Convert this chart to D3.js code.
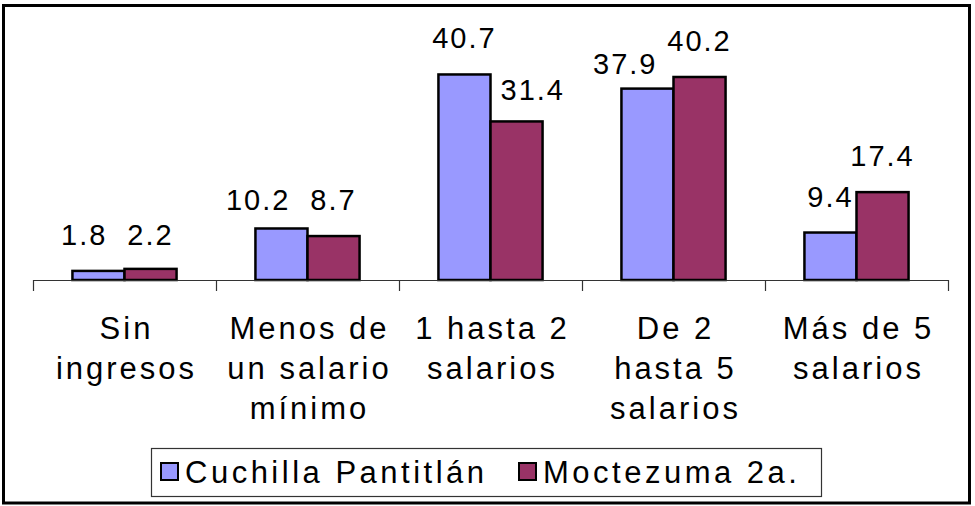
<!DOCTYPE html>
<html>
<head>
<meta charset="utf-8">
<script src="https://cdn.jsdelivr.net/npm/d3@7"></script>
<style>
  body { margin: 0; background: #fff; }
</style>
</head>
<body>
<div id="chart"></div>
<script>
// ingresos por hogar, porcentaje
var categories = ["Sin ingresos", "Menos de un salario mínimo", "1 hasta 2 salarios", "De 2 hasta 5 salarios", "Más de 5 salarios"];
var categoryLines = [["Sin", "ingresos"], ["Menos de", "un salario", "mínimo"], ["1 hasta 2", "salarios"], ["De 2", "hasta 5", "salarios"], ["Más de 5", "salarios"]];
var seriesNames = ["Cuchilla Pantitlán", "Moctezuma 2a."];
var cuchilla = [1.8, 10.2, 40.7, 37.9, 9.4];
var moctezuma = [2.2, 8.7, 31.4, 40.2, 17.4];
var colors = ["#9999FF", "#993366"];

var FONT = "'Liberation Sans', Arimo, Arial, Helvetica, sans-serif";
var width = 975, height = 506;
var margin = {top: 27.5, left: 33, right: 28};
var axisY = 280;

var svg = d3.select("#chart").append("svg")
    .attr("width", width)
    .attr("height", height)
    .style("font-family", FONT);

// outer frame
svg.append("rect")
    .attr("x", 3.5).attr("y", 5.5)
    .attr("width", 966).attr("height", 497.5)
    .attr("fill", "none")
    .attr("stroke", "#000")
    .attr("stroke-width", 3);

var x0 = d3.scaleBand()
    .domain(categories)
    .range([margin.left, width - margin.right + 1])
    .paddingInner(0).paddingOuter(0);

var bw = x0.bandwidth();
var groupW = bw * 0.569;

var x1 = d3.scaleBand()
    .domain(seriesNames)
    .range([(bw - groupW) / 2, (bw + groupW) / 2]);

var y = d3.scaleLinear()
    .domain([0, 50])
    .range([axisY, margin.top]);

var rows = categories.map(function(c, i) {
    return {cat: c, i: i, values: [cuchilla[i], moctezuma[i]]};
});

// bars
var groups = svg.selectAll(".grp")
    .data(rows)
    .enter().append("g")
    .attr("class", "grp")
    .attr("transform", function(d) { return "translate(" + x0(d.cat) + ",0)"; });

groups.selectAll("rect")
    .data(function(d) {
        return d.values.map(function(v, s) { return {s: s, v: v}; });
    })
    .enter().append("rect")
    .attr("x", function(d) { return x1(seriesNames[d.s]); })
    .attr("y", function(d) { return y(d.v); })
    .attr("width", x1.bandwidth())
    .attr("height", function(d) { return axisY - y(d.v); })
    .attr("fill", function(d) { return colors[d.s]; })
    .attr("stroke", "#000")
    .attr("stroke-width", 2.5);

// axis with ticks at category boundaries
var xb = d3.scaleLinear().domain([0, categories.length]).range(x0.range());
svg.append("g")
    .attr("transform", "translate(0," + axisY + ")")
    .call(d3.axisBottom(xb).tickValues(d3.range(categories.length + 1)).tickFormat("").tickSize(11).tickSizeOuter(0))
    .call(function(g) {
        g.selectAll("path, line").attr("stroke", "#333").attr("stroke-width", 1.2);
    });

// category labels
var catText = svg.selectAll(".cat")
    .data(rows)
    .enter().append("text")
    .attr("class", "cat")
    .attr("text-anchor", "middle")
    .style("font-family", FONT)
    .style("font-size", "31px")
    .style("letter-spacing", "3px");

catText.selectAll("tspan")
    .data(function(d) { return categoryLines[d.i].map(function(l) { return {l: l, c: d.cat}; }); })
    .enter().append("tspan")
    .attr("x", function(d) { return x0(d.c) + bw / 2 + 2; })
    .attr("y", function(d, j) { return 339 + j * 40; })
    .text(function(d) { return d.l; });

// value labels, with simple overlap handling
var labels = [];
rows.forEach(function(r) {
    r.values.forEach(function(v, s) {
        var bx = x0(r.cat) + x1(seriesNames[s]);
        labels.push({i: r.i, s: s, v: v, left: bx, right: bx + x1.bandwidth(),
            cx: bx + x1.bandwidth() / 2, base: y(v) - 26});
    });
});

var valText = svg.selectAll(".val")
    .data(labels)
    .enter().append("text")
    .attr("class", "val")
    .attr("text-anchor", "middle")
    .style("font-family", FONT)
    .style("font-size", "29px")
    .style("letter-spacing", "2px")
    .text(function(d) { return d.v.toFixed(1); });

valText.each(function(d) { d.w = this.getComputedTextLength(); });

for (var i = 0; i < categories.length; i++) {
    var a = labels[i * 2], b = labels[i * 2 + 1];
    // label running into the taller neighbour bar
    [[a, b], [b, a]].forEach(function(p) {
        var lab = p[0], other = p[1];
        if (other.v > lab.v) {
            if (other.left > lab.cx && lab.cx + lab.w / 2 > other.left) {
                lab.cx = other.left - 16 - lab.w / 2;
                lab.base += 11;
                lab.moved = true;
            } else if (other.right < lab.cx && lab.cx - lab.w / 2 < other.right) {
                lab.cx = other.right + 10 + lab.w / 2;
                lab.base += 5;
                lab.moved = true;
            }
        }
    });
    // two labels side by side
    if (!a.moved && !b.moved && Math.abs(a.base - b.base) < 22) {
        var gap = (b.cx - b.w / 2) - (a.cx + a.w / 2);
        if (gap < 20) a.cx -= 20 - gap;
        a.base = b.base = Math.max(a.base, b.base);
    }
}

valText
    .attr("x", function(d) { return d.cx; })
    .attr("y", function(d) { return d.base; });

// legend
var legend = svg.append("g");
legend.append("rect")
    .attr("x", 151.5).attr("y", 448.5)
    .attr("width", 670).attr("height", 48)
    .attr("fill", "#fff")
    .attr("stroke", "#333")
    .attr("stroke-width", 1.2);

var legX = [161, 519];
seriesNames.forEach(function(name, s) {
    legend.append("rect")
        .attr("x", legX[s]).attr("y", 463)
        .attr("width", 17).attr("height", 17)
        .attr("fill", colors[s])
        .attr("stroke", "#000")
        .attr("stroke-width", 2);
    legend.append("text")
        .attr("x", legX[s] + 24).attr("y", 483)
        .style("font-family", FONT)
        .style("font-size", "31px")
        .style("letter-spacing", "3.5px")
        .text(name);
});
</script>
</body>
</html>
